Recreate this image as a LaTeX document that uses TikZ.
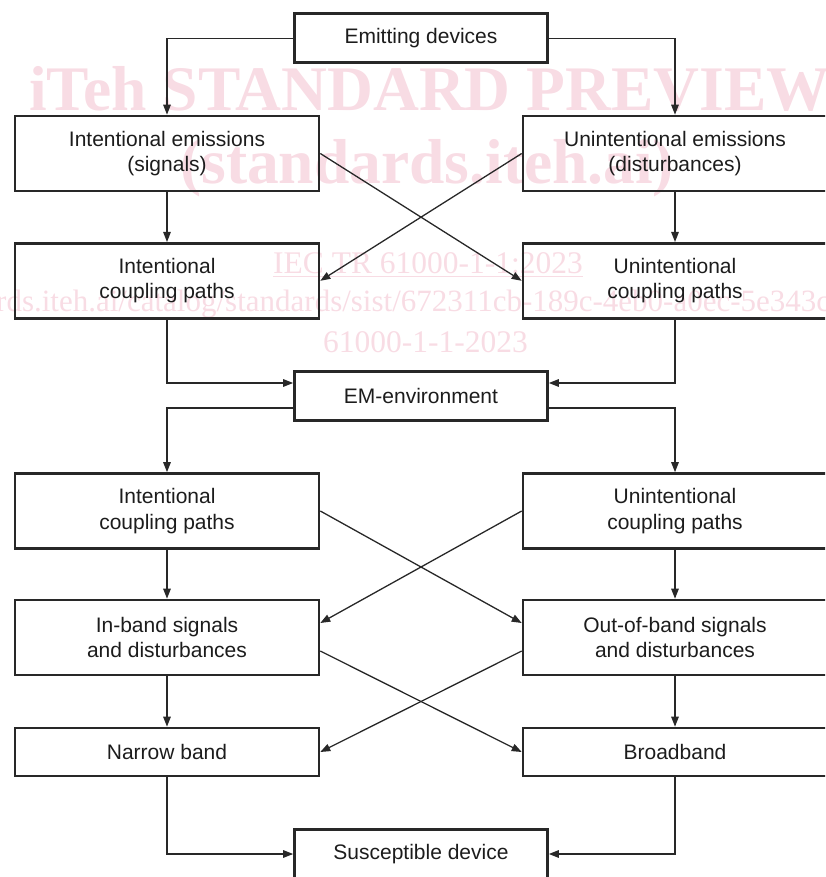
\documentclass[tikz,border=0pt]{standalone}
\usepackage{fontspec}
\setmainfont{Liberation Sans}
\newfontfamily\wmfont{Liberation Serif}
\usetikzlibrary{arrows.meta}
\definecolor{wmpink}{RGB}{248,220,228}
\definecolor{boxline}{RGB}{40,40,40}
\definecolor{txt}{RGB}{28,28,28}
\begin{document}
\begin{tikzpicture}[x=1pt,y=-1pt,
  box/.style={draw=boxline, line width=2.6pt, inner sep=0pt, align=center, text=txt,
    font=\fontsize{21}{25.3}\selectfont},
  side/.style={box, minimum width=304pt, minimum height=75pt},
  mid/.style={box, minimum width=253pt, minimum height=49pt},
  conn/.style={draw=boxline, line width=1.3pt, -{Triangle[length=10pt,width=7.5pt]}},
  wm/.style={text=wmpink, inner sep=0pt, anchor=base west},
  wmbig/.style={wm, font=\wmfont\bfseries\fontsize{63.5}{63.5}\selectfont},
  wmsmall/.style={wm, font=\wmfont\fontsize{31.5}{31.5}\selectfont}]
\useasboundingbox (0,0) rectangle (825,877);
\clip (0,0) rectangle (825,877);
% watermark
\node[wmbig] (wm1) at (29,111) {iTeh STANDARD PREVIEW};
\node[wmbig] (wm2) at (180,184) {(standards.iteh.ai)};
\node[wmsmall] (wm3) at (273,273) {IEC TR 61000-1-1:2023};
\draw[wmpink, line width=1.8pt] ([yshift=-3.5pt]wm3.base west) -- ([yshift=-3.5pt]wm3.base east);
\node[wmsmall, font=\wmfont\fontsize{31}{31}\selectfont] (wm4) at (-4,311) {rds.iteh.ai/catalog/standards/sist/672311cb-189c-4eb0-a0ec-5e343c};
\node[wmsmall] (wm5) at (323,352) {61000-1-1-2023};
% boxes
\node[mid] (emit) at (421,38.3) {Emitting devices};
\node[side] (ie) at (167,153.5) {Intentional emissions\\(signals)};
\node[side] (ue) at (675,153.5) {Unintentional emissions\\(disturbances)};
\node[side] (ic1) at (167,280.8) {Intentional\\coupling paths};
\node[side] (uc1) at (675,280.8) {Unintentional\\coupling paths};
\node[mid] (em) at (421,396) {EM-environment};
\node[side] (ic2) at (167,511) {Intentional\\coupling paths};
\node[side] (uc2) at (675,511) {Unintentional\\coupling paths};
\node[side] (inb) at (167,637.5) {In-band signals\\and disturbances};
\node[side] (outb) at (675,637.5) {Out-of-band signals\\and disturbances};
\node[side, minimum height=48pt] (nb) at (167,752) {Narrow band};
\node[side, minimum height=48pt] (bb) at (675,752) {Broadband};
\node[mid] (sd) at (421,854) {Susceptible device};
% connectors
\draw[conn] (emit.west) -| (ie.north);
\draw[conn] (emit.east) -| (ue.north);
\draw[conn] (ie.south) -- (ic1.north);
\draw[conn] (ue.south) -- (uc1.north);
\draw[conn] (ie.east) -- (uc1.west);
\draw[conn] (ue.west) -- (ic1.east);
\draw[conn] (ic1.south) |- ([yshift=13pt]em.west);
\draw[conn] (uc1.south) |- ([yshift=13pt]em.east);
\draw[conn] ([yshift=-12pt]em.west) -| (ic2.north);
\draw[conn] ([yshift=-12pt]em.east) -| (uc2.north);
\draw[conn] (ic2.south) -- (inb.north);
\draw[conn] (uc2.south) -- (outb.north);
\draw[conn] (ic2.east) -- ([yshift=14.5pt]outb.west);
\draw[conn] (uc2.west) -- ([yshift=14.5pt]inb.east);
\draw[conn] (inb.south) -- (nb.north);
\draw[conn] (outb.south) -- (bb.north);
\draw[conn] ([yshift=-13.5pt]inb.east) -- (bb.west);
\draw[conn] ([yshift=-13.5pt]outb.west) -- (nb.east);
\draw[conn] (nb.south) |- (sd.west);
\draw[conn] (bb.south) |- (sd.east);
\end{tikzpicture}
\end{document}
